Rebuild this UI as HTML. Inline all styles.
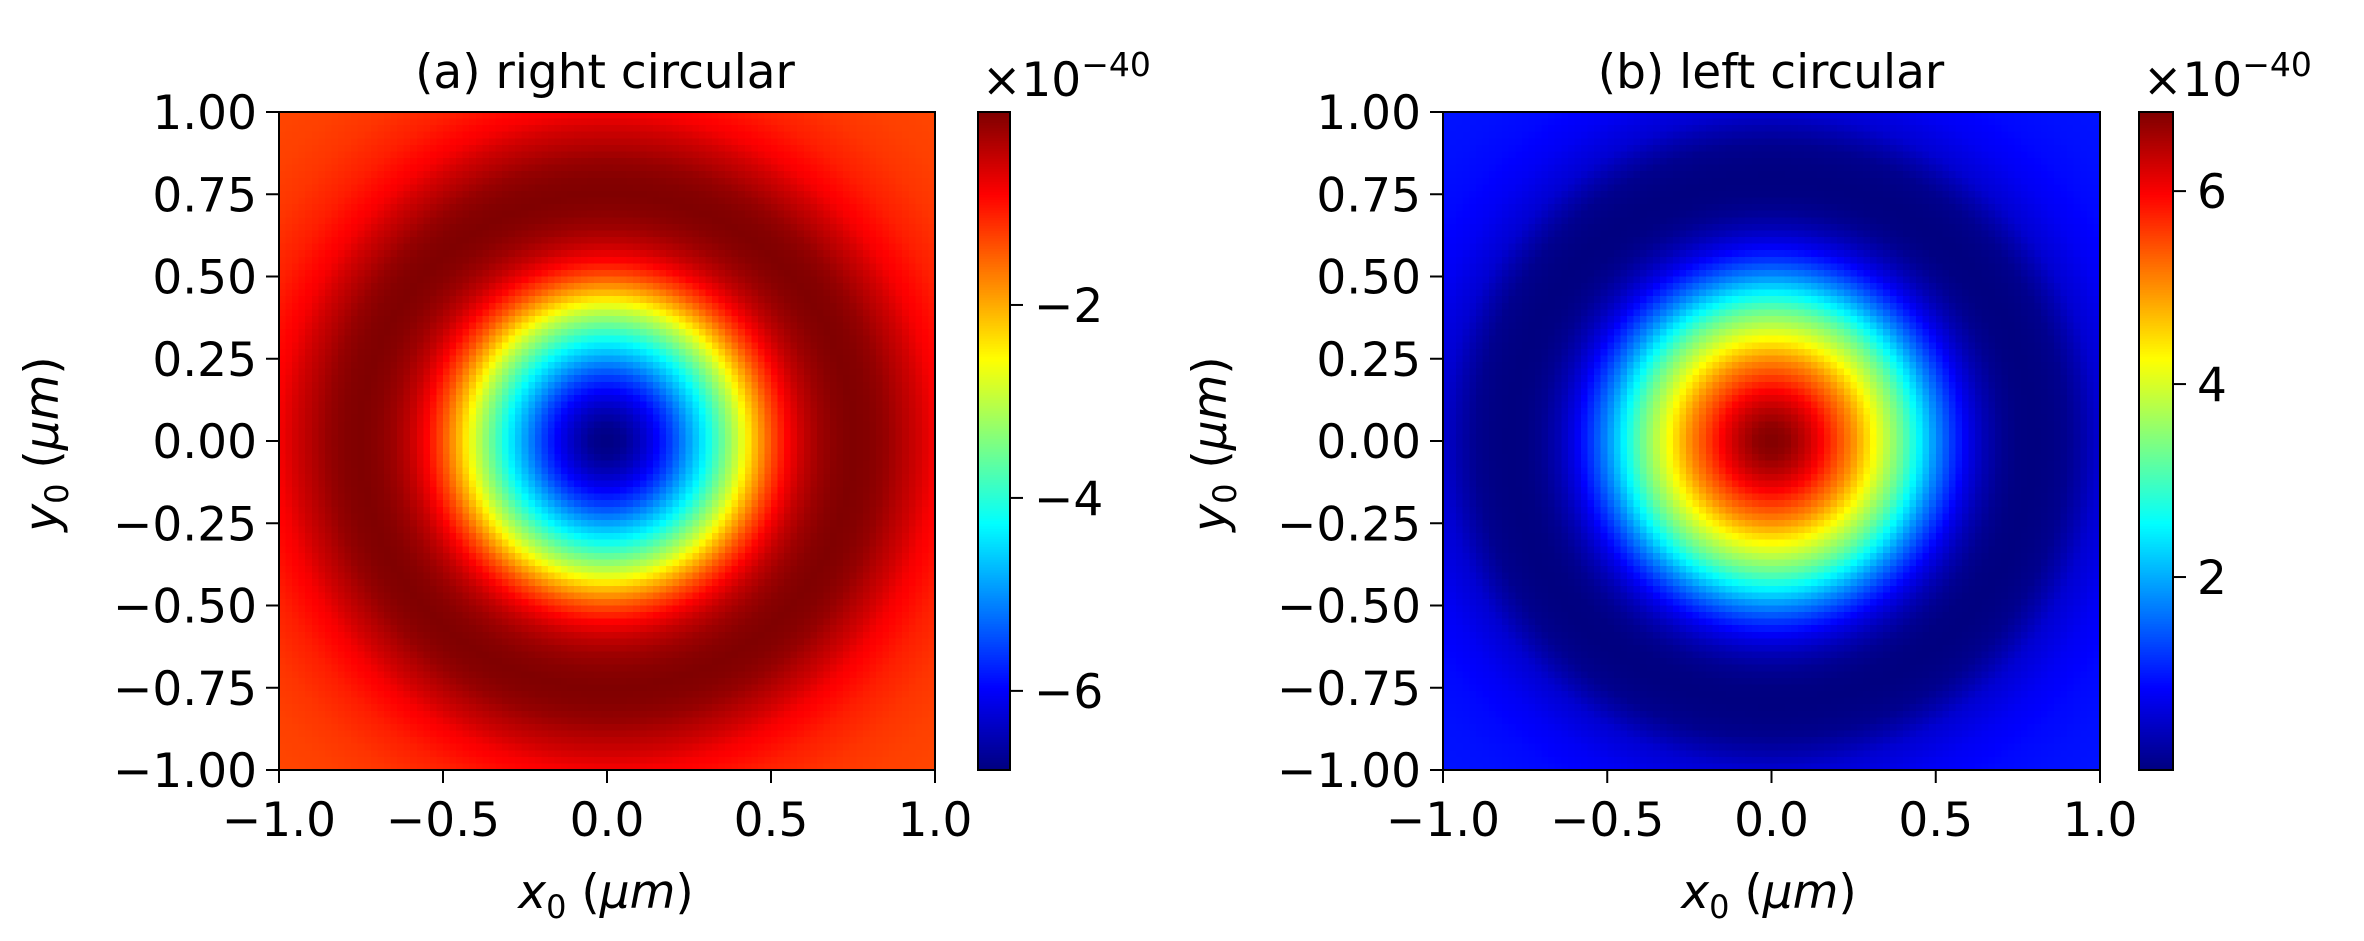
<!DOCTYPE html>
<html><head><meta charset="utf-8">
<style>
html,body{margin:0;padding:0;background:#fff;}
svg{display:block;}
text{font-family:"DejaVu Sans","Liberation Sans",sans-serif;fill:#000;}
</style></head>
<body>
<svg id="fig" width="2364" height="941" viewBox="0 0 2364 941" xmlns="http://www.w3.org/2000/svg">
  <g id="panelA"></g>
  <g id="panelB"></g>
</svg>
<script>
// radial profile radii (um)
const radii = [0,0.05,0.1,0.15,0.2,0.25,0.3,0.35,0.4,0.45,0.5,0.55,0.6,0.65,0.7,0.75,0.8,0.85,0.9,0.95,1.0,1.1,1.2,1.3,1.42];
// panel (a) values, x1e-40
const valuesA = [-6.82,-6.7,-6.4,-6.0,-5.5,-4.9,-4.3,-3.6,-2.9,-2.1,-1.4,-0.85,-0.45,-0.2,-0.06,0,-0.04,-0.15,-0.35,-0.55,-0.8,-1.05,-1.2,-1.28,-1.32];
// panel (b) values, x1e-40
const valuesB = [6.82,6.7,6.4,6.0,5.5,5.0,4.4,3.8,3.2,2.5,1.8,1.2,0.7,0.35,0.12,0.02,0,0.03,0.1,0.3,0.55,0.78,0.9,0.95,0.98];
const xTicks = [-1.0,-0.5,0.0,0.5,1.0];
const xTickLabels = ["\u22121.0","\u22120.5","0.0","0.5","1.0"];
const yTicks = [1.0,0.75,0.5,0.25,0,-0.25,-0.5,-0.75,-1.0];
const yTickLabels = ["1.00","0.75","0.50","0.25","0.00","\u22120.25","\u22120.50","\u22120.75","\u22121.00"];
const cbTicksA = [-2,-4,-6];
const cbTickLabelsA = ["\u22122","\u22124","\u22126"];
const cbRangeA = [-6.82,0.0];
const cbTicksB = [6,4,2];
const cbTickLabelsB = ["6","4","2"];
const cbRangeB = [0.0,6.82];
const N = 100;

const NS="http://www.w3.org/2000/svg";
function mk(tag,attrs,parent){const e=document.createElementNS(NS,tag);for(const k in attrs)e.setAttribute(k,attrs[k]);parent.appendChild(e);return e;}
function jet(t){t=Math.max(0,Math.min(1,t));
  const f=(x)=>Math.max(0,Math.min(1,x));
  const r=f(Math.min(4*t-1.5,-4*t+4.5)),g=f(Math.min(4*t-0.5,-4*t+3.5)),b=f(Math.min(4*t+0.5,-4*t+2.5));
  return `rgb(${Math.round(r*255)},${Math.round(g*255)},${Math.round(b*255)})`;}
function profile(vals,r){
  if(r>=radii[radii.length-1])return vals[vals.length-1];
  for(let i=0;i<radii.length-1;i++){if(r<=radii[i+1]){const u=(r-radii[i])/(radii[i+1]-radii[i]);return vals[i]+u*(vals[i+1]-vals[i]);}}
}
function drawPanel(g,cfg){
  const L=cfg.L,R=cfg.R,T=112,B=770;
  const sx=v=>L+(v+1)/2*(R-L), sy=v=>B-(v+1)/2*(B-T);
  const cv=document.createElement('canvas');cv.width=N;cv.height=N;
  const ctx=cv.getContext('2d');
  for(let j=0;j<N;j++)for(let i=0;i<N;i++){
    const x=-1+(i+0.5)*2/N,y=1-(j+0.5)*2/N;
    const v=profile(cfg.vals,Math.hypot(x,y));
    ctx.fillStyle=jet((v-cfg.range[0])/(cfg.range[1]-cfg.range[0]));ctx.fillRect(i,j,1,1);}
  const fo=mk('foreignObject',{x:L,y:T,width:R-L,height:B-T},g);
  
  
  cv.style.width=(R-L)+'px';cv.style.height=(B-T)+'px';cv.style.imageRendering='pixelated';cv.style.display='block';
  fo.appendChild(cv);
  const fr=mk('rect',{x:L,y:T,width:R-L,height:B-T,fill:'none',stroke:'#000','stroke-width':2},g);
  
  xTicks.forEach((v,k)=>{const x=sx(v);
    const t=mk('line',{x1:x,x2:x,y1:B,y2:B+13,stroke:'#000','stroke-width':2},g);
    
    const l=mk('text',{x:x,y:836,'font-size':47,'text-anchor':'middle'},g);l.textContent=xTickLabels[k];
    });
  yTicks.forEach((v,k)=>{const y=sy(v);
    const t=mk('line',{x1:L-13,x2:L,y1:y,y2:y,stroke:'#000','stroke-width':2},g);
    
    const l=mk('text',{x:L-22,y:y+17,'font-size':47,'text-anchor':'end'},g);l.textContent=yTickLabels[k];
    });
  const ti=mk('text',{x:cfg.titleX,y:88,'font-size':47,'text-anchor':'middle'},g);ti.textContent=cfg.title;
  
  const xl=mk('text',{x:cfg.xlX,y:908,'font-size':47,'text-anchor':'middle'},g);
  
  xl.innerHTML='<tspan font-style="italic">x</tspan><tspan font-size="32" dy="10">0</tspan><tspan dy="-10"> (</tspan><tspan font-style="italic">μm</tspan>)';
  const yl=mk('text',{x:0,y:0,'font-size':47,'text-anchor':'middle',transform:`translate(${cfg.ylX},444) rotate(-90)`},g);
  
  yl.innerHTML='<tspan font-style="italic">y</tspan><tspan font-size="32" dy="10">0</tspan><tspan dy="-10"> (</tspan><tspan font-style="italic">μm</tspan>)';
  const cL=cfg.cL,cR=cfg.cR;const cb=mk('g',{},g);
  
  const steps=256;for(let s=0;s<steps;s++){const y0=B-(s+1)*(B-T)/steps;
    mk('rect',{x:cL,y:y0,width:cR-cL,height:(B-T)/steps+0.6,fill:jet((s+0.5)/steps)},cb);}
  mk('rect',{x:cL,y:T,width:cR-cL,height:B-T,fill:'none',stroke:'#000','stroke-width':2},cb);
  const cy=v=>B-(v-cfg.range[0])/(cfg.range[1]-cfg.range[0])*(B-T);
  cfg.cbTicks.forEach((v,k)=>{const y=cy(v);
    const t=mk('line',{x1:cR,x2:cR+13,y1:y,y2:y,stroke:'#000','stroke-width':2},cb);
    
    const l=mk('text',{x:cR+24,y:y+17,'font-size':47},cb);l.textContent=cfg.cbLabels[k];
    });
  const ex=mk('text',{x:cL+4,y:96,'font-size':47},cb);
  
  ex.innerHTML='×10<tspan font-size="33" dy="-20">−40</tspan>';
}
drawPanel(document.getElementById('panelA'),{L:279,R:935,vals:valuesA,range:cbRangeA,title:'(a) right circular',titleX:605,xlX:606,ylX:58,cL:978,cR:1010,cbTicks:cbTicksA,cbLabels:cbTickLabelsA});
drawPanel(document.getElementById('panelB'),{L:1443,R:2100,vals:valuesB,range:cbRangeB,title:'(b) left circular',titleX:1771,xlX:1769,ylX:1226,cL:2139,cR:2173,cbTicks:cbTicksB,cbLabels:cbTickLabelsB});
</script>
</body></html>
